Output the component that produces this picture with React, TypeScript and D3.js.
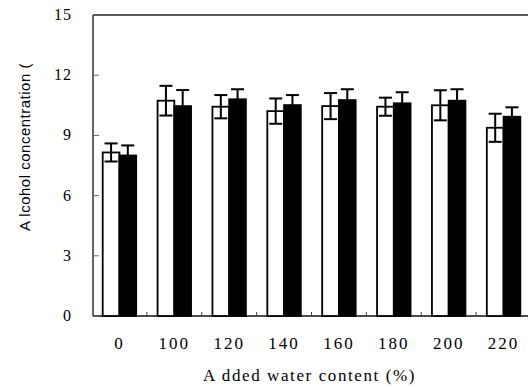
import React, { useEffect, useRef } from "react";
import * as d3 from "d3";

// ---- data ----
const categories = ["0", "100", "120", "140", "160", "180", "200", "220"];
const whiteValues = [8.15, 10.73, 10.43, 10.21, 10.46, 10.43, 10.5, 9.38];
const whiteErrors = [0.45, 0.74, 0.58, 0.63, 0.65, 0.45, 0.75, 0.7];
const blackValues = [8.0, 10.46, 10.8, 10.51, 10.76, 10.6, 10.73, 9.93];
const blackErrors = [0.5, 0.8, 0.5, 0.5, 0.54, 0.55, 0.57, 0.47];
const yTicks = [0, 3, 6, 9, 12, 15];
const seriesKeys = ["white", "black"];

type Row = { cat: string; key: string; value: number; err: number };

export default function App() {
  const ref = useRef<SVGSVGElement | null>(null);

  useEffect(() => {
    // ---- 1. dimensions ----
    const width = 528;
    const left = 93;
    const top = 15;
    const bottom = 316;

    const svg = d3.select(ref.current);
    svg.selectAll("*").remove();

    // ---- 2. scales ----
    const xScale = d3.scaleBand<string>().domain(categories).range([92, 531]).padding(0);
    const groupW = xScale.bandwidth() * 0.61;
    const subScale = d3.scaleBand<string>().domain(seriesKeys).range([0, groupW]).padding(0);
    const yScale = d3.scaleLinear().domain([0, 15]).range([bottom, top]);

    const rows: Row[] = [];
    categories.forEach((c, i) => {
      rows.push({ cat: c, key: "white", value: whiteValues[i], err: whiteErrors[i] });
      rows.push({ cat: c, key: "black", value: blackValues[i], err: blackErrors[i] });
    });

    const barX = (d: Row) =>
      (xScale(d.cat) as number) + (xScale.bandwidth() - groupW) / 2 + (subScale(d.key) as number);
    const barCx = (d: Row) => barX(d) + subScale.bandwidth() / 2;

    // ---- 3. frame and ticks ----
    const frame = svg.append("g");
    frame.append("line").attr("x1", left).attr("x2", left).attr("y1", top).attr("y2", bottom)
      .attr("stroke", "#111").attr("stroke-width", 1.3);
    frame.append("line").attr("x1", left).attr("x2", width).attr("y1", top).attr("y2", top)
      .attr("stroke", "#222").attr("stroke-width", 1.3);
    frame.append("line").attr("x1", left).attr("x2", width).attr("y1", bottom).attr("y2", bottom)
      .attr("stroke", "#111").attr("stroke-width", 1.3);

    frame.selectAll(".ytick").data(yTicks).join("line")
      .attr("x1", left).attr("x2", left + 6)
      .attr("y1", (d) => yScale(d)).attr("y2", (d) => yScale(d))
      .attr("stroke", "#666").attr("stroke-width", 1);

    frame.selectAll(".ylab").data(yTicks).join("text")
      .attr("x", 72).attr("y", (d) => yScale(d) + 5)
      .attr("text-anchor", "end")
      .style("font-family", "'Liberation Serif', 'Times New Roman', serif")
      .style("font-size", "16px")
      .style("letter-spacing", "1px")
      .text((d) => d);

    // minor ticks between groups
    frame.selectAll(".xtick").data(categories.slice(1)).join("line")
      .attr("x1", (d) => xScale(d) as number).attr("x2", (d) => xScale(d) as number)
      .attr("y1", bottom).attr("y2", bottom - 4)
      .attr("stroke", "#444").attr("stroke-width", 1);

    frame.selectAll(".xlab").data(categories).join("text")
      .attr("x", (d) => (xScale(d) as number) + xScale.bandwidth() / 2)
      .attr("y", 349)
      .attr("text-anchor", "middle")
      .style("font-family", "'Liberation Serif', 'Times New Roman', serif")
      .style("font-size", "17px")
      .style("letter-spacing", "2px")
      .text((d) => d);

    // ---- 4. bars ----
    const bars = svg.append("g");
    bars.selectAll("rect").data(rows).join("rect")
      .attr("x", barX)
      .attr("y", (d) => yScale(d.value))
      .attr("width", subScale.bandwidth())
      .attr("height", (d) => bottom - yScale(d.value))
      .attr("fill", (d) => (d.key === "white" ? "#fff" : "#000"))
      .attr("stroke", "#000")
      .attr("stroke-width", 1.8);

    // ---- 5. error bars ----
    const capW = 13;
    const errs = svg.append("g").attr("stroke", "#000").attr("stroke-width", 2);
    errs.selectAll(".ev").data(rows).join("line")
      .attr("x1", barCx).attr("x2", barCx)
      .attr("y1", (d) => yScale(d.value - d.err)).attr("y2", (d) => yScale(d.value + d.err));
    errs.selectAll(".et").data(rows).join("line")
      .attr("x1", (d) => barCx(d) - capW / 2).attr("x2", (d) => barCx(d) + capW / 2)
      .attr("y1", (d) => yScale(d.value + d.err)).attr("y2", (d) => yScale(d.value + d.err));
    errs.selectAll(".eb").data(rows).join("line")
      .attr("x1", (d) => barCx(d) - capW / 2).attr("x2", (d) => barCx(d) + capW / 2)
      .attr("y1", (d) => yScale(d.value - d.err)).attr("y2", (d) => yScale(d.value - d.err));

    // ---- 6. axis titles ----
    svg.append("defs").append("clipPath").attr("id", "ylabclip")
      .append("rect").attr("x", 0).attr("y", 64).attr("width", 60).attr("height", 300);

    svg.append("g")
      .attr("clip-path", "url(#ylabclip)")
      .append("text")
      .attr("transform", "translate(30,231) rotate(-90)")
      .attr("text-anchor", "start")
      .style("font-family", "'Liberation Sans', Arial, sans-serif")
      .style("font-size", "15px")
      .style("letter-spacing", "0.5px")
      .text("A lcohol concentration (%)");

    svg.append("text")
      .attr("x", 203).attr("y", 381)
      .style("font-family", "'Liberation Serif', 'Times New Roman', serif")
      .style("font-size", "17px")
      .style("letter-spacing", "1.6px")
      .text("A dded  water content (%)");
  }, []);

  return (
    <div style={{ position: "absolute", left: 0, top: 0 }}>
      <svg ref={ref} width={528} height={387} style={{ display: "block", background: "#fff" }} />
    </div>
  );
}
